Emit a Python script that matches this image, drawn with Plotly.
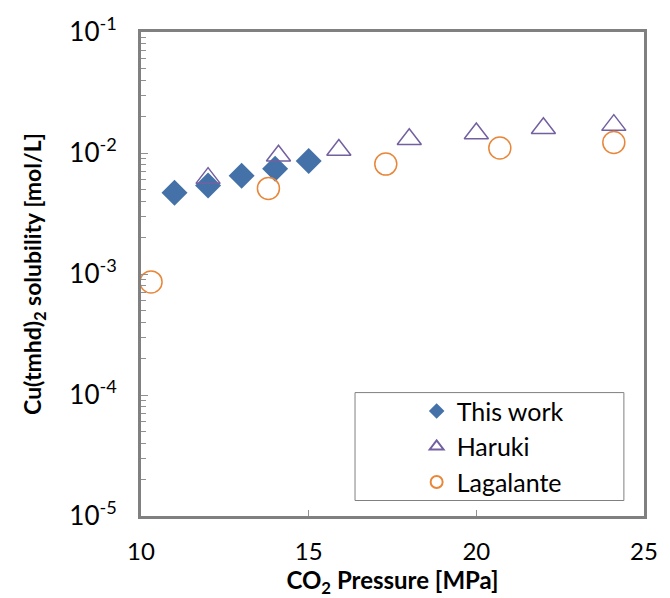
import plotly.graph_objects as go

this_x = [11, 12, 13, 14, 15]
this_y = [4.7e-3, 5.4e-3, 6.5e-3, 7.4e-3, 8.6e-3]

haruki_x = [12.0, 14.1, 15.9, 18.0, 20.0, 22.0, 24.1]
haruki_y = [6.2e-3, 9.5e-3, 1.06e-2, 1.3e-2, 1.45e-2, 1.6e-2, 1.7e-2]

lag_x = [10.3, 13.8, 17.3, 20.7, 24.1]
lag_y = [8.6e-4, 5.1e-3, 8.1e-3, 1.1e-2, 1.22e-2]

y_tickvals = [1e-5, 1e-4, 1e-3, 1e-2, 1e-1]
y_ticktext = ["10<sup>-5</sup>", "10<sup>-4</sup>", "10<sup>-3</sup>", "10<sup>-2</sup>", "10<sup>-1</sup>"]
x_tickvals = [10, 15, 20, 25]

FONT = "Lato"

fig = go.Figure()
fig.add_trace(go.Scatter(x=this_x, y=this_y, mode="markers", name="This work",
                         marker=dict(symbol="diamond", size=20, color="#4472A8",
                                     line=dict(width=0))))
fig.add_trace(go.Scatter(x=haruki_x, y=haruki_y, mode="markers", name="Haruki",
                         marker=dict(symbol="triangle-up-open", size=21, color="#7360A0",
                                     line=dict(width=1.5))))
fig.add_trace(go.Scatter(x=lag_x, y=lag_y, mode="markers", name="Lagalante",
                         marker=dict(symbol="circle-open", size=22, color="#E8873A",
                                     line=dict(width=1.5))))

fig.update_layout(
    width=670, height=598,
    margin=dict(l=141, r=12, t=24, b=79),
    paper_bgcolor="white", plot_bgcolor="white",
    font=dict(family=FONT, color="black"),
    showlegend=True,
    legend=dict(x=0.548, y=0.264, xanchor="left", yanchor="top",
                bgcolor="rgba(0,0,0,0)", borderwidth=0,
                font=dict(size=25, family=FONT), itemsizing="constant",
                tracegroupgap=0),
    shapes=[dict(type="rect", xref="paper", yref="paper",
                 x0=0.4255, x1=0.96, y0=0.032, y1=0.255,
                 line=dict(color="#808080", width=1), fillcolor="rgba(0,0,0,0)")],
)

fig.update_xaxes(range=[10, 25], tickvals=x_tickvals, ticks="inside", ticklen=6,
                 tickcolor="#909090", showgrid=False, zeroline=False,
                 showline=True, linecolor="#808080", linewidth=3, mirror=True,
                 tickfont=dict(size=24, family=FONT), ticklabelstandoff=12,
                 title=dict(text="<b>CO<sub>2</sub> Pressure [MPa]</b>",
                            font=dict(size=24, family=FONT), standoff=4))
fig.update_yaxes(type="log", range=[-5, -1], tickvals=y_tickvals, ticktext=y_ticktext,
                 ticks="inside", ticklen=7, tickcolor="#909090",
                 minor=dict(ticks="inside", ticklen=5, tickcolor="#909090",
                            dtick="D1", showgrid=False),
                 showgrid=False, zeroline=False,
                 showline=True, linecolor="#808080", linewidth=3, mirror=True,
                 tickfont=dict(size=26, family=FONT), ticklabelstandoff=16,
                 title=dict(text="<b>Cu(tmhd)<sub>2</sub> solubility [mol/L]</b>",
                            font=dict(size=23, family=FONT), standoff=22))

fig.write_html("out.html")
